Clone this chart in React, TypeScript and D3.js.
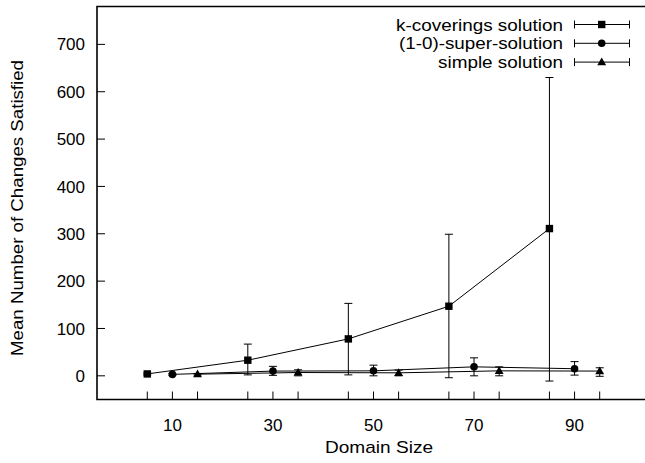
import React from "react";
import * as d3 from "d3";

// domain sizes per series
const kcovX = [5, 25, 45, 65, 85];
const kcovY = [4, 33, 78, 147, 311];
const kcovLo = [2, 2, 2, -4, -11];
const kcovHi = [6, 67, 153, 299, 630];

const superX = [10, 30, 50, 70, 90];
const superY = [3, 10, 10.5, 19, 15];
const superLo = [1, 1, 0, 0, 1.5];
const superHi = [5, 20, 22.5, 38, 30];

const simpleX = [15, 35, 55, 75, 95];
const simpleY = [3.5, 7, 6.3, 10.5, 10];
const simpleLo = [2, 0, 0, 0, -1];
const simpleHi = [5, 12.7, 12, 19, 17];

const xTicks = [5, 10, 15, 25, 30, 35, 45, 50, 55, 65, 70, 75, 85, 90, 95];
const xLabels = [10, 30, 50, 70, 90];
const yTicks = [0, 100, 200, 300, 400, 500, 600, 700];
const seriesNames = ["k-coverings solution", "(1-0)-super-solution", "simple solution"];
const legendWidths = [167, 164, 125];

const W = 645;
const H = 463;
const left = 97;
const top = 6.5;
const bottom = 399.5;

const x = d3.scaleLinear().domain([-5, 110]).range([left, left + 115 * 5.027]);
const y = d3.scaleLinear().domain([-50, 780]).range([bottom, top]);

const font = "'Liberation Sans', Arial, Helvetica, sans-serif";

type Pt = { x: number; y: number; lo: number; hi: number };

const zip = (xs: number[], ys: number[], lo: number[], hi: number[]): Pt[] =>
  xs.map((v, i) => ({ x: v, y: ys[i], lo: lo[i], hi: hi[i] }));

const series = [
  { name: seriesNames[0], pts: zip(kcovX, kcovY, kcovLo, kcovHi), shape: "square" },
  { name: seriesNames[1], pts: zip(superX, superY, superLo, superHi), shape: "circle" },
  { name: seriesNames[2], pts: zip(simpleX, simpleY, simpleLo, simpleHi), shape: "triangle" },
];

function Marker({ shape, cx, cy }: { shape: string; cx: number; cy: number }) {
  if (shape === "square") return <rect x={cx - 3.7} y={cy - 3.7} width={7.4} height={7.4} fill="#000" />;
  if (shape === "circle") return <circle cx={cx} cy={cy} r={3.8} fill="#000" />;
  return <path d={d3.symbol(d3.symbolTriangle, 34)() as string} transform={`translate(${cx},${cy + 0.5})`} fill="#000" />;
}

export default function App() {
  const line = d3
    .line<Pt>()
    .x((d) => x(d.x))
    .y((d) => y(d.y));

  return (
    <svg width={W} height={H} style={{ position: "absolute", left: 0, top: 0, background: "#fff" }} fontFamily={font}>
      {/* y ticks */}
      {yTicks.map((t) => (
        <g key={t}>
          <line x1={left} x2={left + 8} y1={y(t)} y2={y(t)} stroke="#000" strokeWidth={1} />
          <text x={left - 12} y={y(t)} dy="0.36em" textAnchor="end" fontSize={17}>
            {t}
          </text>
        </g>
      ))}

      {/* x ticks */}
      {xTicks.map((t) => (
        <line key={t} x1={x(t)} x2={x(t)} y1={bottom} y2={bottom - 8} stroke="#000" strokeWidth={1} />
      ))}
      {xLabels.map((t) => (
        <text key={t} x={x(t)} y={431} textAnchor="middle" fontSize={17}>
          {t}
        </text>
      ))}

      {/* series */}
      {series.map((s) => (
        <g key={s.name}>
          <path d={line(s.pts) as string} fill="none" stroke="#000" strokeWidth={1} />
          {s.pts.map((p, i) => (
            <g key={i}>
              <line x1={x(p.x)} x2={x(p.x)} y1={y(p.lo)} y2={y(p.hi)} stroke="#000" strokeWidth={1} />
              <line x1={x(p.x) - 4} x2={x(p.x) + 4} y1={y(p.lo)} y2={y(p.lo)} stroke="#000" strokeWidth={1} />
              <line x1={x(p.x) - 4} x2={x(p.x) + 4} y1={y(p.hi)} y2={y(p.hi)} stroke="#000" strokeWidth={1} />
              <Marker shape={s.shape} cx={x(p.x)} cy={y(p.y)} />
            </g>
          ))}
        </g>
      ))}

      {/* legend */}
      {series.map((s, i) => {
        const ly = 24.5 + i * 18.8;
        return (
          <g key={s.name}>
            <text
              x={563 - legendWidths[i]}
              y={ly}
              dy="0.36em"
              fontSize={17}
              textLength={legendWidths[i]}
              lengthAdjust="spacingAndGlyphs"
            >
              {s.name}
            </text>
            <line x1={574.5} x2={629.5} y1={ly} y2={ly} stroke="#000" strokeWidth={1} />
            <line x1={574.5} x2={574.5} y1={ly - 4} y2={ly + 4} stroke="#000" strokeWidth={1} />
            <line x1={629.5} x2={629.5} y1={ly - 4} y2={ly + 4} stroke="#000" strokeWidth={1} />
            <Marker shape={s.shape} cx={601.7} cy={ly} />
          </g>
        );
      })}

      {/* frame: right side falls outside the picture */}
      <path d={`M${W + 5},${top}H${left}V${bottom}H${W + 5}`} fill="none" stroke="#000" strokeWidth={1.6} />

      {/* axis titles */}
      <text x={379} y={453} textAnchor="middle" fontSize={17} textLength={108} lengthAdjust="spacingAndGlyphs">
        Domain Size
      </text>
      <text
        transform={`translate(23,208) rotate(-90)`}
        textAnchor="middle"
        fontSize={17}
        textLength={296}
        lengthAdjust="spacingAndGlyphs"
      >
        Mean Number of Changes Satisfied
      </text>
    </svg>
  );
}
